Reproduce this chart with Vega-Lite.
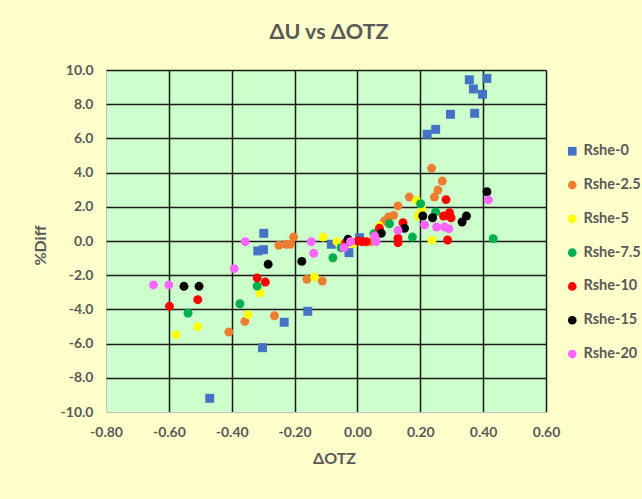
{
  "$schema": "https://vega.github.io/schema/vega-lite/v6.json",
  "width": 440,
  "height": 342,
  "autosize": {"type": "none"},
  "padding": {"left": 106, "top": 70, "right": 96, "bottom": 87},
  "background": "#FFFFCC",
  "title": {"text": "ΔU vs ΔOTZ", "font": "Lato", "fontSize": 21.5, "fontWeight": "bold", "color": "#595959", "offset": 20, "anchor": "middle", "dx": 3},
  "config": {
    "view": {"fill": "#CCFFCC", "stroke": null},
    "font": "Lato"
  },
  "data": {"values": [
    {"s": "Rshe-0", "x": -0.470, "y": -9.2},
    {"s": "Rshe-0", "x": -0.302, "y": -6.24},
    {"s": "Rshe-0", "x": -0.233, "y": -4.75},
    {"s": "Rshe-0", "x": -0.158, "y": -4.11},
    {"s": "Rshe-0", "x": -0.317, "y": -0.58},
    {"s": "Rshe-0", "x": -0.299, "y": -0.51},
    {"s": "Rshe-0", "x": -0.298, "y": 0.45},
    {"s": "Rshe-0", "x": -0.083, "y": -0.19},
    {"s": "Rshe-0", "x": -0.027, "y": -0.68},
    {"s": "Rshe-0", "x": 0.007, "y": 0.19},
    {"s": "Rshe-0", "x": 0.222, "y": 6.24},
    {"s": "Rshe-0", "x": 0.249, "y": 6.53},
    {"s": "Rshe-0", "x": 0.296, "y": 7.41},
    {"s": "Rshe-0", "x": 0.373, "y": 7.47},
    {"s": "Rshe-0", "x": 0.356, "y": 9.43},
    {"s": "Rshe-0", "x": 0.369, "y": 8.89},
    {"s": "Rshe-0", "x": 0.398, "y": 8.58},
    {"s": "Rshe-0", "x": 0.412, "y": 9.51},
    {"s": "Rshe-2.5", "x": -0.409, "y": -5.32},
    {"s": "Rshe-2.5", "x": -0.358, "y": -4.70},
    {"s": "Rshe-2.5", "x": -0.264, "y": -4.37},
    {"s": "Rshe-2.5", "x": -0.250, "y": -0.25},
    {"s": "Rshe-2.5", "x": -0.227, "y": -0.19},
    {"s": "Rshe-2.5", "x": -0.213, "y": -0.19},
    {"s": "Rshe-2.5", "x": -0.203, "y": 0.23},
    {"s": "Rshe-2.5", "x": -0.161, "y": -2.24},
    {"s": "Rshe-2.5", "x": -0.112, "y": -2.34},
    {"s": "Rshe-2.5", "x": 0.042, "y": -0.04},
    {"s": "Rshe-2.5", "x": 0.086, "y": 1.17},
    {"s": "Rshe-2.5", "x": 0.099, "y": 1.40},
    {"s": "Rshe-2.5", "x": 0.115, "y": 1.50},
    {"s": "Rshe-2.5", "x": 0.129, "y": 2.05},
    {"s": "Rshe-2.5", "x": 0.165, "y": 2.57},
    {"s": "Rshe-2.5", "x": 0.236, "y": 4.25},
    {"s": "Rshe-2.5", "x": 0.245, "y": 2.57},
    {"s": "Rshe-2.5", "x": 0.256, "y": 2.98},
    {"s": "Rshe-2.5", "x": 0.270, "y": 3.51},
    {"s": "Rshe-5", "x": -0.577, "y": -5.48},
    {"s": "Rshe-5", "x": -0.508, "y": -5.01},
    {"s": "Rshe-5", "x": -0.348, "y": -4.31},
    {"s": "Rshe-5", "x": -0.310, "y": -3.04},
    {"s": "Rshe-5", "x": -0.137, "y": -2.10},
    {"s": "Rshe-5", "x": -0.109, "y": 0.23},
    {"s": "Rshe-5", "x": -0.065, "y": -0.04},
    {"s": "Rshe-5", "x": -0.014, "y": -0.16},
    {"s": "Rshe-5", "x": 0.070, "y": 0.88},
    {"s": "Rshe-5", "x": 0.188, "y": 2.38},
    {"s": "Rshe-5", "x": 0.193, "y": 1.46},
    {"s": "Rshe-5", "x": 0.205, "y": 1.85},
    {"s": "Rshe-5", "x": 0.237, "y": 0.05},
    {"s": "Rshe-7.5", "x": -0.539, "y": -4.21},
    {"s": "Rshe-7.5", "x": -0.374, "y": -3.67},
    {"s": "Rshe-7.5", "x": -0.319, "y": -2.63},
    {"s": "Rshe-7.5", "x": -0.078, "y": -0.98},
    {"s": "Rshe-7.5", "x": -0.052, "y": -0.39},
    {"s": "Rshe-7.5", "x": 0.053, "y": 0.43},
    {"s": "Rshe-7.5", "x": 0.102, "y": 1.01},
    {"s": "Rshe-7.5", "x": 0.175, "y": 0.23},
    {"s": "Rshe-7.5", "x": 0.201, "y": 2.18},
    {"s": "Rshe-7.5", "x": 0.249, "y": 1.70},
    {"s": "Rshe-7.5", "x": 0.432, "y": 0.13},
    {"s": "Rshe-10", "x": -0.598, "y": -3.82},
    {"s": "Rshe-10", "x": -0.508, "y": -3.43},
    {"s": "Rshe-10", "x": -0.319, "y": -2.16},
    {"s": "Rshe-10", "x": -0.293, "y": -2.40},
    {"s": "Rshe-10", "x": -0.036, "y": -0.10},
    {"s": "Rshe-10", "x": 0.002, "y": 0.0},
    {"s": "Rshe-10", "x": 0.015, "y": -0.04},
    {"s": "Rshe-10", "x": 0.028, "y": -0.04},
    {"s": "Rshe-10", "x": 0.070, "y": 0.74},
    {"s": "Rshe-10", "x": 0.129, "y": 0.16},
    {"s": "Rshe-10", "x": 0.129, "y": -0.10},
    {"s": "Rshe-10", "x": 0.145, "y": 1.07},
    {"s": "Rshe-10", "x": 0.274, "y": 1.46},
    {"s": "Rshe-10", "x": 0.282, "y": 2.42},
    {"s": "Rshe-10", "x": 0.293, "y": 1.65},
    {"s": "Rshe-10", "x": 0.298, "y": 1.36},
    {"s": "Rshe-10", "x": 0.287, "y": 0.06},
    {"s": "Rshe-15", "x": -0.552, "y": -2.65},
    {"s": "Rshe-15", "x": -0.504, "y": -2.65},
    {"s": "Rshe-15", "x": -0.284, "y": -1.36},
    {"s": "Rshe-15", "x": -0.177, "y": -1.19},
    {"s": "Rshe-15", "x": -0.030, "y": 0.10},
    {"s": "Rshe-15", "x": 0.076, "y": 0.45},
    {"s": "Rshe-15", "x": 0.150, "y": 0.74},
    {"s": "Rshe-15", "x": 0.208, "y": 1.46},
    {"s": "Rshe-15", "x": 0.239, "y": 1.36},
    {"s": "Rshe-15", "x": 0.333, "y": 1.11},
    {"s": "Rshe-15", "x": 0.347, "y": 1.46},
    {"s": "Rshe-15", "x": 0.412, "y": 2.88},
    {"s": "Rshe-20", "x": -0.649, "y": -2.57},
    {"s": "Rshe-20", "x": -0.600, "y": -2.57},
    {"s": "Rshe-20", "x": -0.392, "y": -1.62},
    {"s": "Rshe-20", "x": -0.357, "y": -0.04},
    {"s": "Rshe-20", "x": -0.147, "y": -0.04},
    {"s": "Rshe-20", "x": -0.139, "y": -0.72},
    {"s": "Rshe-20", "x": -0.043, "y": -0.39},
    {"s": "Rshe-20", "x": -0.022, "y": -0.04},
    {"s": "Rshe-20", "x": 0.055, "y": 0.29},
    {"s": "Rshe-20", "x": 0.060, "y": -0.04},
    {"s": "Rshe-20", "x": 0.129, "y": 0.62},
    {"s": "Rshe-20", "x": 0.214, "y": 0.94},
    {"s": "Rshe-20", "x": 0.252, "y": 0.82},
    {"s": "Rshe-20", "x": 0.277, "y": 0.82},
    {"s": "Rshe-20", "x": 0.291, "y": 0.72},
    {"s": "Rshe-20", "x": 0.417, "y": 2.40}
  ]},
  "mark": {"type": "point", "filled": true, "opacity": 1, "size": 80},
  "encoding": {
    "x": {
      "field": "x", "type": "quantitative",
      "scale": {"domain": [-0.8, 0.6], "nice": false, "zero": false},
      "axis": {
        "title": "ΔOTZ", "values": [-0.8, -0.6, -0.4, -0.2, 0, 0.2, 0.4, 0.6], "format": ".2f",
        "labelExpr": "replace(datum.label, '−', '-')",
        "labelFlush": false,
        "grid": true,
        "gridColor": {"condition": {"test": "datum.value <= -0.79", "value": "#BFBFBF"}, "value": "#1a1a1a"},
        "gridWidth": {"condition": {"test": "datum.value <= -0.79", "value": 1}, "value": 1.5},
        "gridOpacity": 1,
        "domain": false, "ticks": false,
        "labelFont": "Lato", "labelFontSize": 14, "labelFontWeight": "bold", "labelColor": "#595959", "labelPadding": 13,
        "titleFont": "Lato", "titleFontSize": 16, "titleFontWeight": "bold", "titleColor": "#595959", "titlePadding": 11,
        "titleX": 228
      }
    },
    "y": {
      "field": "y", "type": "quantitative",
      "scale": {"domain": [-10, 10], "nice": false, "zero": false},
      "axis": {
        "title": "%Diff", "values": [-10, -8, -6, -4, -2, 0, 2, 4, 6, 8, 10], "format": ".1f",
        "labelExpr": "replace(datum.label, '−', '-')",
        "labelFlush": false,
        "grid": true,
        "gridColor": {"condition": {"test": "datum.value <= -9.9", "value": "#BFBFBF"}, "value": "#1a1a1a"},
        "gridWidth": {"condition": {"test": "datum.value <= -9.9", "value": 1}, "value": 1.5},
        "gridOpacity": 1,
        "domain": false, "ticks": false,
        "labelFont": "Lato", "labelFontSize": 14, "labelFontWeight": "bold", "labelColor": "#595959", "labelPadding": 13,
        "titleFont": "Lato", "titleFontSize": 16, "titleFontWeight": "bold", "titleColor": "#595959", "titlePadding": 12,
        "titleY": 175
      }
    },
    "color": {
      "field": "s", "type": "nominal",
      "scale": {
        "domain": ["Rshe-0", "Rshe-2.5", "Rshe-5", "Rshe-7.5", "Rshe-10", "Rshe-15", "Rshe-20"],
        "range": ["#4472C4", "#ED7D31", "#FFFF00", "#00B050", "#FF0000", "#000000", "#FF66FF"]
      },
      "legend": {
        "title": null, "orient": "none", "legendX": 459, "legendY": 74,
        "labelFont": "Lato", "labelFontSize": 14.5, "labelFontWeight": "bold", "labelColor": "#595959",
        "symbolSize": 75, "rowPadding": 18.8, "labelOffset": 4
      }
    },
    "shape": {
      "field": "s", "type": "nominal",
      "scale": {
        "domain": ["Rshe-0", "Rshe-2.5", "Rshe-5", "Rshe-7.5", "Rshe-10", "Rshe-15", "Rshe-20"],
        "range": ["square", "circle", "circle", "circle", "circle", "circle", "circle"]
      },
      "legend": null
    }
  }
}
